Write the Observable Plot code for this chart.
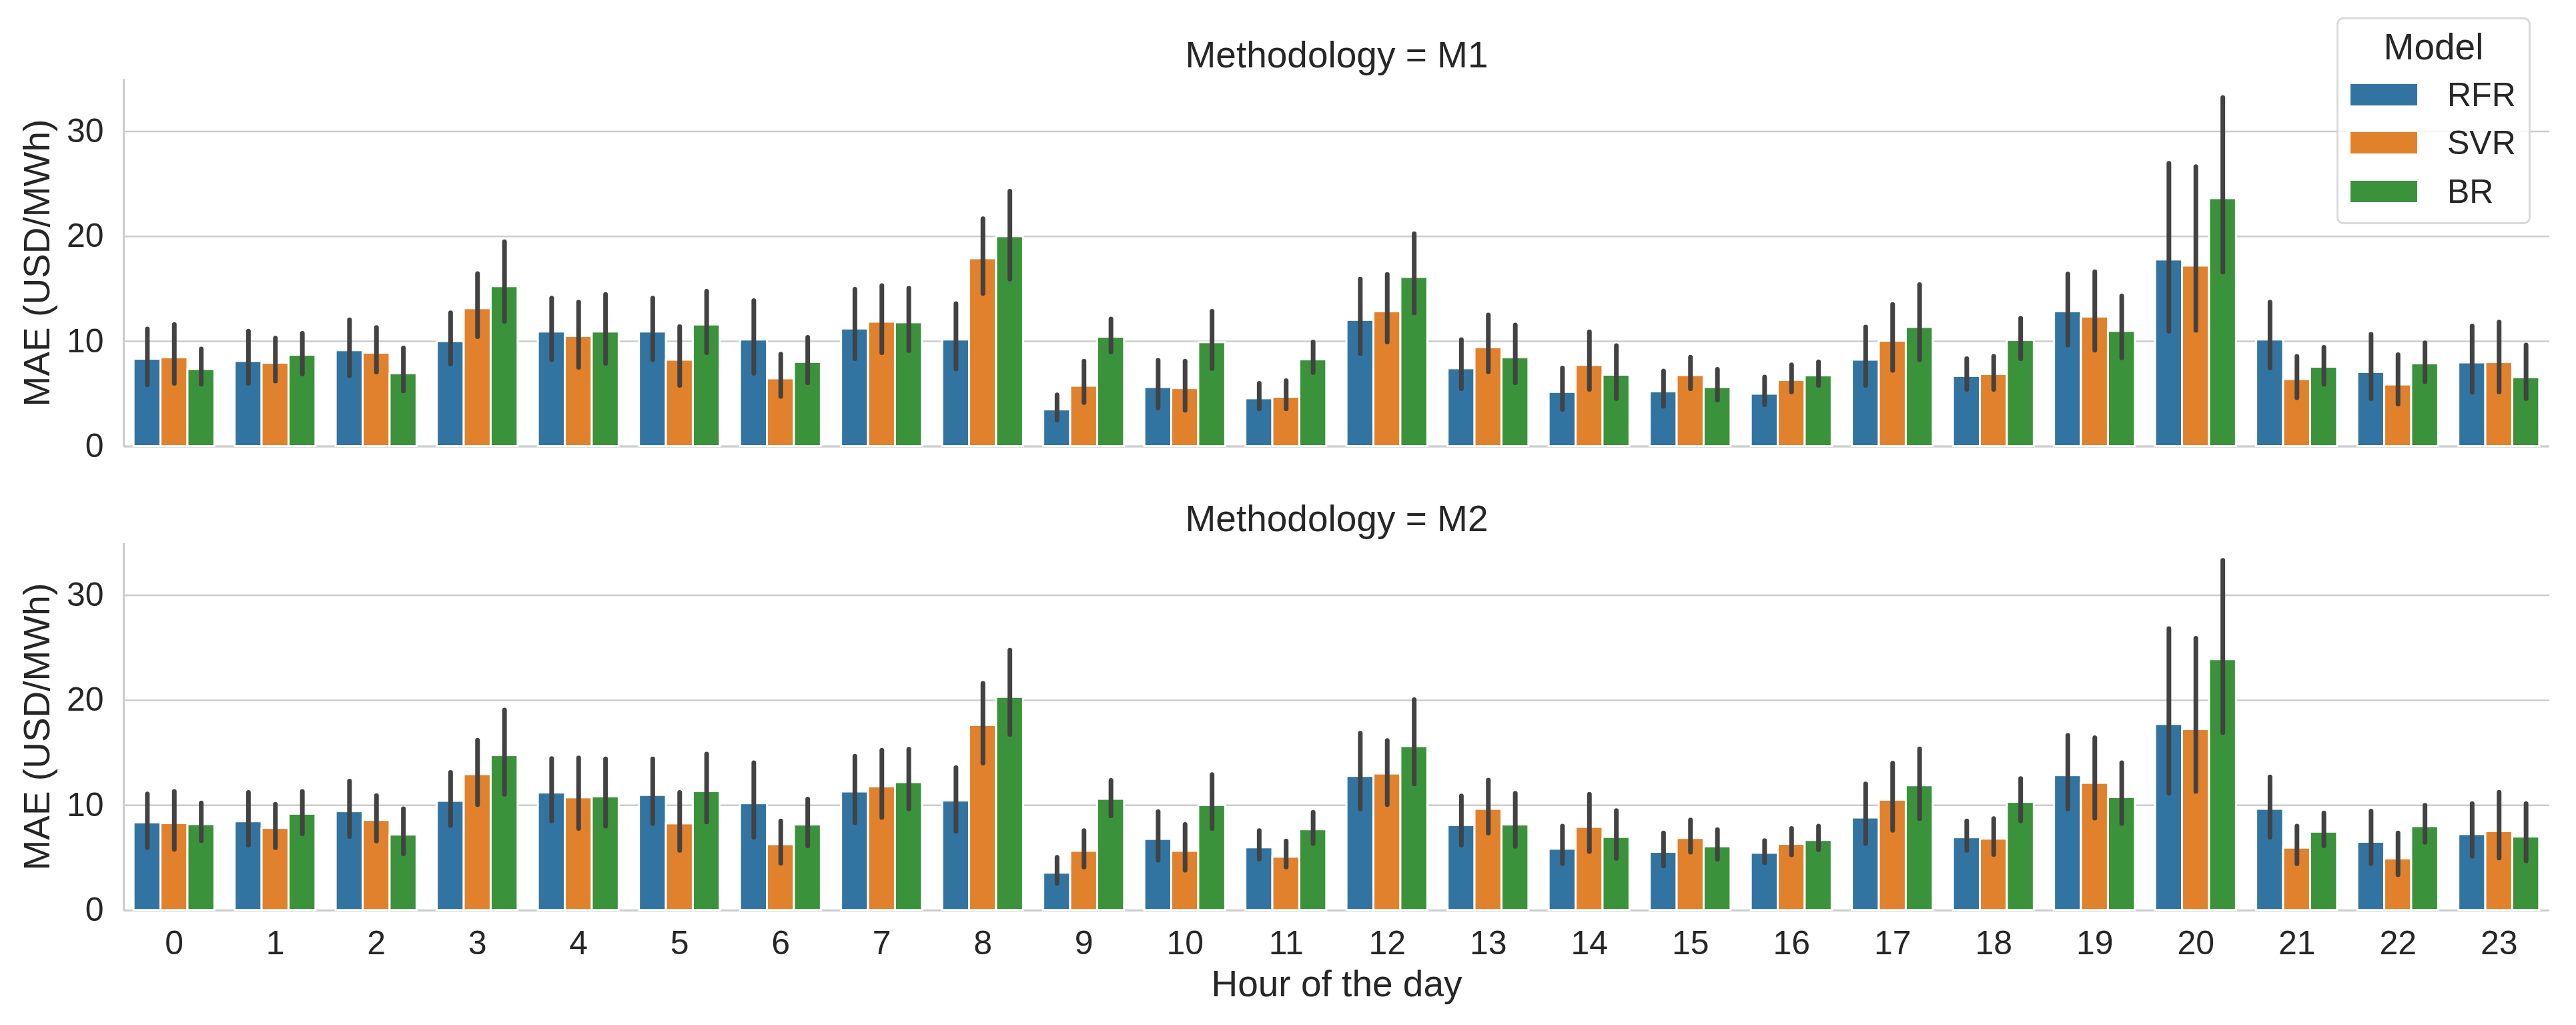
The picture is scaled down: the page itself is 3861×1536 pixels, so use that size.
<!DOCTYPE html>
<html>
<head>
<meta charset="utf-8">
<script src="https://cdn.jsdelivr.net/npm/d3@7"></script>
<script src="https://cdn.jsdelivr.net/npm/@observablehq/plot@0.6"></script>
<style>
  html, body { margin: 0; padding: 0; background: #fff; }
  #wrap { position: relative; width: 3861px; height: 1536px; font-family: "Liberation Sans", Arial, sans-serif; color: #262626; }
  #legend { position: absolute; left: 3502px; top: 26px; width: 285px; height: 304px; border: 3px solid #d9d9d9; border-radius: 10px; background: rgba(255,255,255,0.8); }
  #legend .title { position: absolute; left: 0; width: 100%; top: 41px; transform: translateY(-50%); text-align: center; font-size: 55px; }
  #legend .row { position: absolute; left: 18px; height: 32px; display: flex; align-items: center; }
  #legend .sw { width: 100px; height: 32px; }
  #legend .lab { margin-left: 45px; font-size: 50px; line-height: 32px; }
</style>
</head>
<body>
<div id="wrap"></div>
<script>
const hours = [0,1,2,3,4,5,6,7,8,9,10,11,12,13,14,15,16,17,18,19,20,21,22,23];
const models = ["RFR", "SVR", "BR"];
const methodologies = ["M1", "M2"];
const modelColors = ["#3274a1", "#e1812c", "#3a923a"];

// Methodology M1
const M1_RFR_mean = [8.32, 8.11, 9.13, 10.0, 10.91, 10.91, 10.15, 11.2, 10.15, 3.5, 5.63, 4.55, 12.02, 7.41, 5.16, 5.22, 4.99, 8.23, 6.68, 12.84, 17.77, 10.15, 7.06, 7.97];
const M1_RFR_lo   = [5.84, 5.98, 6.71, 7.82, 8.23, 8.23, 6.92, 8.32, 7.35, 2.48, 3.65, 3.56, 8.81, 5.46, 3.5, 3.79, 3.94, 5.78, 5.4, 9.63, 10.94, 7.44, 4.52, 5.11];
const M1_RFR_hi   = [11.15, 10.94, 12.02, 12.69, 14.09, 14.09, 13.86, 14.94, 13.57, 4.87, 8.17, 5.98, 15.9, 10.13, 7.44, 7.15, 6.57, 11.35, 8.32, 16.4, 26.93, 13.71, 10.65, 11.44];
const M1_SVR_mean = [8.46, 7.94, 8.9, 13.13, 10.48, 8.23, 6.45, 11.85, 17.89, 5.75, 5.52, 4.7, 12.84, 9.43, 7.73, 6.77, 6.3, 10.04, 6.86, 12.34, 17.19, 6.39, 5.87, 8.0];
const M1_SVR_lo   = [5.98, 6.19, 7.06, 10.42, 7.5, 5.78, 4.73, 8.9, 14.53, 4.14, 3.41, 3.56, 9.92, 7.09, 5.4, 5.46, 5.16, 7.21, 5.4, 9.13, 11.03, 4.61, 4.0, 5.16];
const M1_SVR_hi   = [11.58, 10.27, 11.29, 16.43, 13.71, 11.38, 8.75, 15.29, 21.65, 8.08, 8.08, 6.22, 16.34, 12.49, 10.88, 8.46, 7.73, 13.48, 8.55, 16.6, 26.61, 8.55, 8.7, 11.82];
const M1_BR_mean  = [7.35, 8.7, 6.94, 15.23, 10.91, 11.58, 8.02, 11.79, 19.99, 10.42, 9.89, 8.26, 16.11, 8.46, 6.8, 5.63, 6.74, 11.35, 10.1, 10.97, 23.61, 7.56, 7.88, 6.57];
const M1_BR_lo    = [5.89, 6.86, 5.25, 11.88, 7.88, 8.9, 6.04, 9.1, 15.9, 8.96, 7.38, 7.0, 12.69, 6.04, 4.52, 4.38, 5.78, 8.23, 8.32, 8.4, 16.57, 5.89, 6.13, 4.52];
const M1_BR_hi    = [9.25, 10.74, 9.34, 19.46, 14.44, 14.74, 10.36, 15.03, 24.28, 12.11, 12.84, 9.92, 20.22, 11.53, 9.57, 7.3, 8.02, 15.38, 12.17, 14.3, 33.18, 9.4, 9.83, 9.63];

// Methodology M2
const M2_RFR_mean = [8.35, 8.45, 9.41, 10.4, 11.19, 10.96, 10.17, 11.29, 10.43, 3.56, 6.77, 5.97, 12.77, 8.09, 5.84, 5.54, 5.45, 8.81, 6.93, 12.84, 17.72, 9.64, 6.5, 7.23];
const M2_RFR_lo   = [5.94, 6.17, 7.0, 8.05, 8.48, 8.22, 6.93, 8.32, 7.49, 2.54, 4.75, 4.85, 9.64, 6.17, 4.42, 4.19, 4.52, 6.34, 5.68, 9.64, 11.12, 6.93, 4.42, 5.12];
const M2_RFR_hi   = [11.06, 11.19, 12.28, 13.1, 14.42, 14.39, 14.03, 14.65, 13.56, 5.02, 9.37, 7.56, 16.83, 10.86, 7.99, 7.33, 6.6, 12.01, 8.48, 16.63, 26.8, 12.67, 9.41, 10.13];
const M2_SVR_mean = [8.28, 7.82, 8.58, 12.94, 10.73, 8.25, 6.27, 11.78, 17.62, 5.64, 5.64, 5.08, 13.0, 9.64, 7.92, 6.86, 6.3, 10.5, 6.8, 12.11, 17.23, 5.94, 4.92, 7.52];
const M2_SVR_lo   = [5.78, 5.94, 6.57, 10.03, 7.76, 5.68, 4.46, 8.81, 13.99, 4.09, 3.8, 4.09, 10.03, 7.33, 5.58, 5.51, 5.25, 7.59, 5.28, 8.75, 11.29, 4.42, 3.37, 4.95];
const M2_SVR_hi   = [11.29, 10.07, 10.89, 16.17, 14.49, 11.19, 8.48, 15.21, 21.58, 7.56, 8.15, 6.57, 16.14, 12.38, 11.02, 8.58, 7.76, 13.99, 8.71, 16.4, 25.87, 7.99, 7.33, 11.22];
const M2_BR_mean  = [8.18, 9.17, 7.19, 14.75, 10.83, 11.32, 8.15, 12.18, 20.3, 10.59, 10.0, 7.69, 15.61, 8.15, 6.96, 6.07, 6.67, 11.88, 10.3, 10.76, 23.89, 7.46, 7.99, 7.0];
const M2_BR_lo    = [6.6, 7.26, 5.35, 11.02, 7.99, 8.38, 6.11, 9.64, 16.73, 8.98, 7.76, 6.34, 12.01, 6.07, 4.92, 4.85, 5.74, 8.71, 8.48, 8.25, 16.9, 6.11, 6.44, 4.69];
const M2_BR_hi    = [10.2, 11.29, 9.64, 19.04, 14.39, 14.85, 10.56, 15.31, 24.75, 12.34, 12.9, 9.31, 20.03, 11.12, 9.47, 7.66, 7.99, 15.35, 12.51, 14.03, 33.3, 9.24, 9.97, 10.13];

const yTicks = [0, 10, 20, 30];

const series = {
  M1: {RFR: [M1_RFR_mean, M1_RFR_lo, M1_RFR_hi], SVR: [M1_SVR_mean, M1_SVR_lo, M1_SVR_hi], BR: [M1_BR_mean, M1_BR_lo, M1_BR_hi]},
  M2: {RFR: [M2_RFR_mean, M2_RFR_lo, M2_RFR_hi], SVR: [M2_SVR_mean, M2_SVR_lo, M2_SVR_hi], BR: [M2_BR_mean, M2_BR_lo, M2_BR_hi]}
};

const groupWidth = 0.8;
const barW = groupWidth / models.length;
const rows = [];
for (const meth of methodologies) {
  models.forEach((model, i) => {
    const [mean, lo, hi] = series[meth][model];
    hours.forEach((h, k) => {
      const x1 = h - groupWidth / 2 + i * barW;
      rows.push({meth, model, hour: h, x1, x2: x1 + barW, xc: x1 + barW / 2, mean: mean[k], lo: lo[k], hi: hi[k]});
    });
  });
}

const W = 3861, H = 1536;
const chart = Plot.plot({
  width: W,
  height: H,
  marginLeft: 185,
  marginRight: 40,
  marginTop: 118.5,
  marginBottom: 172.3,
  style: {fontFamily: '"Liberation Sans", Arial, sans-serif', color: "#262626", background: "#fff"},
  x: {type: "linear", domain: [-0.5, 23.5]},
  y: {domain: [0, 34.95]},
  fy: {domain: methodologies, axis: null, paddingInner: 0.2089, paddingOuter: 0, round: false},
  color: {domain: models, range: modelColors},
  marks: [
    Plot.gridY(yTicks, {stroke: "#cccccc", strokeOpacity: 1, strokeWidth: 2.5}),
    Plot.ruleX([-0.5], {stroke: "#cccccc", strokeWidth: 3}),
    Plot.ruleY([0], {stroke: "#cccccc", strokeWidth: 3}),
    Plot.rectY(rows, {x1: "x1", x2: "x2", y1: 0, y2: "mean", fy: "meth", fill: "model", stroke: "white", strokeWidth: 3}),
    Plot.ruleX(rows, {x: "xc", y1: "lo", y2: "hi", fy: "meth", stroke: "#424242", strokeWidth: 7, strokeLinecap: "round"}),
    Plot.axisY(yTicks, {tickSize: 0, tickPadding: 30, fontSize: 50, label: null}),
    Plot.axisX(hours, {tickSize: 0, tickPadding: 30, fontSize: 50, label: null, tickFormat: d => String(d)}),
    Plot.text(methodologies, {fy: d => d, text: d => `Methodology = ${d}`, frameAnchor: "top", dy: -35.5, fontSize: 55, lineAnchor: "middle", textAnchor: "middle"}),
    Plot.text(methodologies, {fy: d => d, text: () => "MAE (USD/MWh)", frameAnchor: "left", dx: -129, rotate: -90, fontSize: 55, lineAnchor: "middle", textAnchor: "middle"}),
    Plot.text(["M2"], {fy: d => d, text: () => "Hour of the day", frameAnchor: "bottom", dy: 111, fontSize: 55, lineAnchor: "middle", textAnchor: "middle"})
  ]
});

const wrap = document.getElementById("wrap");
wrap.appendChild(chart);

const color = chart.scale("color");
const legend = document.createElement("div");
legend.id = "legend";
legend.innerHTML = `<div class="title">Model</div>`;
const rowTops = [97, 169, 242];
models.forEach((m, i) => {
  const r = document.createElement("div");
  r.className = "row";
  r.style.top = rowTops[i] + "px";
  r.innerHTML = `<div class="sw" style="background:${color.apply(m)}"></div><div class="lab">${m}</div>`;
  legend.appendChild(r);
});
wrap.appendChild(legend);
</script>
</body>
</html>
